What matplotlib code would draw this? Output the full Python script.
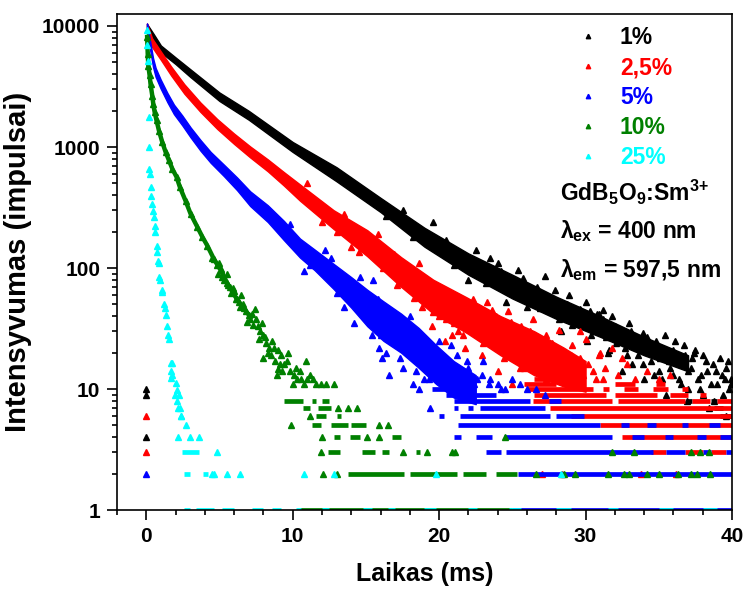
import matplotlib
matplotlib.use('Agg')
import matplotlib.pyplot as plt
from matplotlib.lines import Line2D
from matplotlib.ticker import MultipleLocator, LogLocator, NullFormatter

plt.rcParams['font.family'] = ['Liberation Sans', 'DejaVu Sans']
plt.rcParams['font.weight'] = 'bold'
plt.rcParams['mathtext.default'] = 'regular'

labels = ['1%', '2,5%', '5%', '10%', '25%']
colors = ['#000000', '#ff0000', '#0000ff', '#008000', '#00ffff']

# dense part of each decay: time (ms), lower and upper edge of the point cloud
black_t = [0.05, 0.5, 1, 2, 3, 5, 7, 10, 13, 16, 19, 22, 25, 28, 31, 34, 37]
black_lo = [9000, 7400, 6050, 4850, 3800, 2400, 1680, 910, 520, 290, 150, 88, 56, 38, 27, 19, 14]
black_hi = [10400, 8600, 6900, 5500, 4400, 2820, 1990, 1100, 680, 380, 215, 132, 88, 58, 40, 27, 19]

red_t = [0.05, 0.4, 1, 1.7, 2.6, 3.7, 4.85, 6, 7.1, 8.3, 9.4, 10.5, 12.8, 15.1, 17.4, 19.6, 21.9,
         24.2, 26.5, 28.5, 30.0]
red_lo = [9000, 6700, 5250, 3900, 2760, 1950, 1410, 1060, 820, 630, 480, 360, 210, 125, 70, 42, 29,
          19, 13, 10.5, 9.5]
red_hi = [10500, 7900, 6150, 4620, 3300, 2330, 1700, 1290, 1010, 790, 620, 490, 300, 205, 123, 80, 57,
          40, 30, 22, 17]

blue_t = [0.05, 0.23, 0.46, 0.64, 0.98, 1.44, 1.89, 2.46, 3.03, 3.71, 4.4, 5.3, 6.2, 7.1, 8.3, 9.4,
          10.5, 11.5, 12.8, 14.0, 15.1, 16.2, 17.4, 18.6, 19.8, 21.0, 22.5]
blue_lo = [9200, 6700, 4600, 3800, 3050, 2350, 1870, 1510, 1200, 930, 740, 575, 440, 325, 240, 170,
           122, 96, 67, 47, 33, 25, 20, 15, 11, 8.5, 7.5]
blue_hi = [10500, 7900, 5450, 4500, 3620, 2800, 2240, 1820, 1450, 1140, 910, 715, 560, 430, 330, 245,
           175, 142, 108, 84, 66, 53, 42, 32, 23, 17, 13]

# green early decay is a single chain of points
green_line_t = [0.06, 0.1, 0.14, 0.23, 0.29, 0.41, 0.48, 0.57, 0.70, 0.87, 1.09, 1.32, 1.55, 1.78,
                2.07, 2.3, 2.68, 3.03, 3.49, 3.83, 4.17, 4.63, 5.08, 5.53, 6.2, 7.0]
green_line_v = [8100, 5900, 4700, 3900, 3330, 2660, 2260, 1950, 1660, 1360, 1100, 910, 775, 660,
                565, 465, 360, 280, 218, 181, 153, 118, 96, 75, 55, 41]

# scattered single points (time, counts)
black_pt_t = [0.0, 0.0, 0.0, 22.5, 23.2, 24.0, 24.6, 25.4, 26.0, 26.7, 27.2, 27.8, 28.3, 28.9, 29.4,
              30.0, 30.4, 30.9, 31.2, 31.6, 32.0, 32.4, 32.8, 33.1, 33.5, 33.9, 34.2, 34.6, 35.0,
              35.3, 35.7, 36.1, 36.4, 36.8, 37.2, 37.5, 37.9, 38.2, 38.6, 38.9, 39.2, 39.5, 39.8,
              36.0, 34.0, 32.5, 39.9, 38.0, 37.0, 35.5, 30.8, 31.2, 37.4, 39.7, 36.9, 38.8, 38.4, 39.6,
              24.2, 24.8, 25.3, 25.7, 26.1, 26.5, 26.9, 27.4, 27.9, 28.2, 28.7, 29.1, 29.6, 29.9,
              30.3, 30.6, 31.0, 31.4, 31.8, 32.1, 32.3, 32.7, 33.0, 33.3, 33.6, 33.9, 34.3, 34.5,
              34.8, 35.1, 35.4, 35.8, 36.0, 36.3, 36.7, 37.0, 37.3, 37.7, 38.0, 38.3, 38.7, 39.0,
              39.3, 39.6, 39.9, 35.2, 36.5, 37.8, 39.4, 33.2, 34.7, 31.5, 30.1,
              17.5, 18.2, 20.5, 21.0, 23.5, 19.6, 22.0, 16.4]
black_pt_v = [10, 9, 4, 140, 75, 110, 52, 96, 48, 70, 86, 45, 30, 60, 40,
              52, 28, 42, 45, 21, 33, 26, 19, 30, 23, 16, 27, 20, 14,
              22, 17, 25, 12, 19, 15, 21, 13, 17, 11, 14, 18, 12, 10,
              13, 12, 14, 11, 9, 10, 9, 42, 38, 20, 17, 8, 8, 7, 6,
              95, 70, 60, 82, 55, 64, 47, 58, 66, 38, 50, 34, 46, 36,
              44, 31, 36, 27, 40, 24, 31, 22, 35, 26, 19, 29, 22, 17,
              25, 18, 28, 15, 21, 17, 23, 14, 18, 12, 19, 14, 16, 11,
              13, 15, 12, 12, 11, 10, 9, 16, 13, 20, 25,
              300, 180, 170, 105, 120, 240, 80, 270]

red_pt_t = [0.0, 0.0, 14.5, 17.1, 18.3, 19.6, 20.5, 21.0, 22.3, 23.0, 23.6, 24.4, 24.9, 25.3, 25.8,
            26.2, 26.8, 27.3, 27.7, 28.1, 28.6, 29.0, 29.4, 29.8, 30.2, 30.7, 31.2, 21.6, 23.9,
            27.0, 28.4, 33.8, 36.2, 24.0, 25.0,
            18.0, 18.8, 19.2, 20.0, 20.8, 21.3, 22.0, 22.6, 23.3, 23.8, 24.3, 24.7, 25.1, 25.6,
            26.0, 26.4, 26.9, 27.3, 27.8, 28.2, 28.8, 29.1, 29.6, 30.0, 30.5, 30.9, 31.3, 31.8,
            32.2, 32.8, 33.4, 34.2, 35.0, 35.8, 22.9, 25.5, 27.6, 29.3, 20.4, 21.8, 23.0, 19.5,
            11.0, 12.0, 13.5, 14.0, 15.8, 16.2, 18.6, 16.9, 13.0, 20.9, 31.0, 32.5, 29.6]
red_pt_v = [6, 3, 135, 72, 56, 43, 38, 35, 55, 24, 45, 18, 36, 25, 15,
            30, 20, 12, 24, 16, 13, 19, 14, 13, 16, 12, 12, 28, 40,
            2, 2, 2, 2, 14, 11,
            85, 48, 70, 40, 58, 30, 42, 33, 52, 26, 30, 44, 20, 33,
            24, 38, 17, 28, 21, 31, 16, 23, 18, 26, 14, 19, 15, 22,
            13, 16, 12, 14, 12, 13, 19, 15, 13, 12, 25, 22, 38, 33,
            500, 240, 280, 150, 190, 100, 110, 130, 200, 28, 20, 18, 30]

blue_pt_t = [0.0, 13.5, 14.5, 15.8, 15.9, 16.1, 17.5, 18.2, 18.6, 19.4, 19.8, 20.8, 21.9, 17.0, 16.6,
             19.0, 20.2, 22.6, 23.4, 24.2,
             13.8, 14.2, 14.9, 15.4, 16.0, 16.4, 16.9, 17.3, 17.8, 18.4, 18.9, 19.3, 19.7, 20.3,
             20.6, 21.2, 21.5, 22.0, 22.4, 22.9, 23.5, 24.0, 24.5, 25.0, 25.5, 26.0, 26.6, 27.2,
             23.0, 20.0, 18.0, 15.5,
             9.8, 11.2, 12.2, 13.0, 14.6, 16.0, 12.6, 10.8]
blue_pt_v = [2, 48, 70, 55, 22, 18, 15, 11, 10, 7, 22, 23, 17, 28, 13,
             12, 14, 12, 11, 10,
             80, 35, 62, 28, 46, 20, 36, 18, 32, 14, 26, 12, 20, 16,
             11, 19, 13, 15, 11, 13, 12, 11, 10, 12, 11, 10, 10, 9,
             17, 25, 40, 80,
             230, 105, 140, 62, 85, 28, 120, 95]

green_pt_t = [4.5, 4.8, 4.9, 5.1, 5.3, 5.6, 5.8, 5.9, 6.1, 6.4, 6.6, 6.8, 6.9, 7.2, 7.4, 7.5, 7.6,
              7.8, 7.7, 8.0, 8.2, 8.4, 8.6, 8.0, 8.5, 8.8, 9.0, 9.2, 9.4, 9.7, 9.3, 9.8, 10.1, 10.3,
              10.6, 10.9, 11.2, 11.6, 12.8, 10.0, 10.8, 11.9, 8.9,
              5.0, 5.2, 5.5, 5.7, 6.0, 6.3, 6.5, 6.7, 7.1, 7.3, 7.9, 8.1, 8.3, 8.7, 9.1, 9.6, 10.2,
              10.5, 11.0, 11.4, 12.3, 9.0,
              11.9, 17.5, 19.2, 20.9, 21.1, 15.1, 15.9, 12.0, 9.9, 15.9, 16.5, 14.4, 12.1, 13.0,
              13.1, 13.8, 11.2,
              26.6, 28.5, 29.3, 31.5, 32.6, 33.0, 34.2, 35.0, 36.3, 37.2, 37.6, 38.5,
              31.8, 33.3, 37.2, 37.8, 38.4, 24.5]
green_pt_v = [120, 105, 90, 98, 80, 72, 62, 68, 55, 48, 50, 44, 36, 42, 46, 38, 33,
              30, 26, 28, 24, 22, 25, 18, 19, 17, 21, 19, 16, 20, 14, 14, 13, 12,
              12, 17, 13, 11, 11, 11, 11, 11, 13,
              110, 85, 90, 70, 64, 52, 60, 47, 38, 34, 35, 27, 20, 22, 16, 17, 15,
              14, 12, 12, 11, 14.5,
              3, 3, 3, 3, 3, 4, 4, 4, 5, 5, 5, 7, 2, 2,
              7, 7, 6,
              2, 2, 2, 2, 2, 2, 2, 2, 2, 2, 2, 2,
              3, 3, 3, 3, 3, 4]

cyan_pt_t = [0.05, 0.08, 0.12, 0.18, 0.2, 0.22, 0.27, 0.32, 0.34, 0.41, 0.48, 0.55, 0.59, 0.63, 0.7,
             0.75, 0.82, 0.87, 0.93, 0.9, 1.09, 1.05, 1.25, 1.32, 1.2, 1.43, 1.55, 1.5, 1.78, 1.72,
             1.78, 1.66, 1.7, 2.0, 2.07, 1.95, 2.23, 2.1, 2.3, 2.2, 2.35, 2.4, 2.73, 2.16, 3.0,
             3.6, 4.8, 4.5, 4.6, 5.5, 6.4, 10.8, 12.8, 19.8, 28.3]
cyan_pt_v = [9300, 7000, 5150, 1770, 1000, 660, 600, 465, 395, 337, 297, 264, 223, 198, 152,
             135, 114, 110, 80, 85, 63, 66, 47, 41, 50, 33, 26, 28, 16.4, 16.4,
             13, 12.3, 14, 11.2, 9.8, 9, 8.9, 8, 7, 7, 6, 6, 5, 4, 4,
             4, 3, 2, 2, 2, 2, 2, 2, 2, 2]

# low count tails: rows of points at integer counts, (count, t_start, t_end)
black_rows = [(8, 36.9, 37.3), (8, 38.6, 39.0), (7, 38.8, 39.4), (6, 39.2, 40.0)]
red_rows = [(12, 26.5, 27.5), (11, 25.8, 28.0), (11, 32.0, 33.4), (11, 34.8, 35.4),
            (10, 26.0, 30.5), (10, 31.2, 31.6), (10, 32.6, 33.6), (10, 34.6, 35.6), (10, 36.6, 37.0),
            (9, 26.5, 31.4), (9, 32.0, 34.9), (9, 35.8, 37.0), (9, 37.8, 38.2),
            (8, 26.4, 31.8), (8, 32.2, 36.8), (8, 37.3, 38.5), (8, 39.0, 40.0),
            (7, 27.6, 40.0), (6, 29.0, 40.0), (5, 31.0, 40.0), (4, 32.5, 40.0),
            (3, 34.5, 35.5), (3, 36.8, 38.0), (3, 38.6, 39.6)]
blue_rows = [(10, 19.5, 21.5), (9, 20.5, 23.9), (8, 21.0, 26.2), (8, 27.5, 28.3),
             (7, 21.0, 21.3), (7, 22.0, 22.3), (7, 22.8, 27.2),
             (6, 20.0, 20.3), (6, 21.4, 27.6), (6, 28.0, 29.9),
             (5, 21.3, 31.0), (5, 32.4, 33.0), (5, 34.2, 34.8), (5, 36.6, 37.0), (5, 38.4, 39.2),
             (4, 21.0, 21.5), (4, 22.5, 23.6), (4, 24.4, 31.8), (4, 33.2, 34.0), (4, 35.4, 36.0),
             (4, 37.6, 38.2), (4, 39.2, 40.0),
             (3, 23.2, 24.2), (3, 24.6, 34.6), (3, 35.5, 36.8), (3, 38.0, 38.6), (3, 39.6, 40.0),
             (2, 25.4, 40.0), (1, 25.0, 40.0)]
green_rows = [(8, 9.4, 10.7), (8, 11.3, 11.6), (8, 12.0, 12.5),
              (7, 10.7, 11.2), (7, 11.7, 12.6), (6, 11.6, 12.3), (6, 13.0, 13.3),
              (5, 11.3, 11.9), (5, 12.6, 13.8), (5, 14.0, 15.0),
              (4, 12.8, 13.2), (4, 13.9, 14.6), (4, 16.8, 17.4),
              (3, 12.4, 13.2), (3, 14.7, 15.6), (3, 16.1, 16.6), (3, 18.4, 18.7),
              (2, 13.8, 17.6), (2, 18.0, 21.2), (2, 21.6, 23.2), (2, 23.9, 25.3),
              (1, 10.5, 25.0)]
cyan_rows = [(3, 2.46, 3.6), (2, 2.6, 3.0), (2, 3.9, 4.2),
             (1, 2.6, 3.0), (1, 3.4, 4.6), (1, 5.2, 6.0), (1, 7.2, 8.0), (1, 8.6, 9.2),
             (1, 10.2, 10.6), (1, 12.0, 12.5), (1, 14.8, 15.4), (1, 16.5, 17.0), (1, 19.0, 19.8),
             (1, 22.0, 22.6), (1, 24.8, 25.6), (1, 28.0, 29.0), (1, 31.5, 32.2), (1, 35.0, 36.0),
             (1, 38.0, 39.0)]

fig = plt.figure(figsize=(7.46, 5.89), dpi=100)
ax = fig.add_axes([0.1568, 0.1341, 0.8244, 0.8421])

ms = 4.2
row_lw = 3.4


def draw_rows(rows, c):
    for lev, t0, t1 in rows:
        ax.hlines(lev, t0, t1, colors=c, lw=row_lw, zorder=2)


# 1%
ax.fill_between(black_t, black_lo, black_hi, color=colors[0], lw=1.0, edgecolor=colors[0], zorder=2)
ax.plot(black_pt_t, black_pt_v, ls='none', marker='^', ms=ms, color=colors[0], zorder=2)
draw_rows(black_rows, colors[0])
# 2,5%
ax.fill_between(red_t, red_lo, red_hi, color=colors[1], lw=1.0, edgecolor=colors[1], zorder=2)
ax.plot(red_pt_t, red_pt_v, ls='none', marker='^', ms=ms, color=colors[1], zorder=2)
draw_rows(red_rows, colors[1])
# 5%
ax.fill_between(blue_t, blue_lo, blue_hi, color=colors[2], lw=1.0, edgecolor=colors[2], zorder=2)
ax.plot(blue_pt_t, blue_pt_v, ls='none', marker='^', ms=ms, color=colors[2], zorder=2)
draw_rows(blue_rows, colors[2])
# 10%
ax.plot(green_line_t, green_line_v, lw=3.2, marker='^', ms=ms, color=colors[3], zorder=3)
ax.plot(green_pt_t, green_pt_v, ls='none', marker='^', ms=ms, color=colors[3], zorder=3)
draw_rows(green_rows, colors[3])
# 25%
ax.plot(cyan_pt_t, cyan_pt_v, ls='none', marker='^', ms=ms, color=colors[4], zorder=3)
draw_rows(cyan_rows, colors[4])

ax.set_yscale('log')
ax.set_xlim(-2, 40)
ax.set_ylim(1, 12560)
ax.set_xticks([0, 10, 20, 30, 40])
ax.xaxis.set_minor_locator(MultipleLocator(2))
ax.set_yticks([1, 10, 100, 1000, 10000])
ax.set_yticklabels(['1', '10', '100', '1000', '10000'])
ax.yaxis.set_minor_locator(LogLocator(base=10, subs=range(2, 10)))
ax.yaxis.set_minor_formatter(NullFormatter())
ax.tick_params(which='major', direction='out', length=7, width=1.2, labelsize=15, pad=5)
ax.tick_params(which='minor', direction='out', length=3.6, width=1.2)
for s in ax.spines.values():
    s.set_linewidth(1.2)

ax.set_xlabel('Laikas (ms)', fontsize=18, fontweight='bold', labelpad=12)
ax.set_ylabel('Intensyvumas (impulsai)', fontsize=21, fontweight='bold', labelpad=7)

handles = [Line2D([], [], ls='none', marker='^', ms=3.2, color=c) for c in colors]
ax.legend(handles, labels, loc='upper left', bbox_to_anchor=(0.747, 0.975), frameon=False,
          borderpad=0, borderaxespad=0, handlelength=1.0, handletextpad=0.9, labelspacing=0.3,
          prop={'size': 16.5, 'weight': 'bold'}, labelcolor=colors)

ax.text(0.72, 0.641, 'GdB$_5$O$_9$:Sm$^{3\\!+}$', transform=ax.transAxes, fontsize=16.5,
        fontweight='bold', va='center', ha='left')
ax.text(0.72, 0.5625, 'λ$_{ex}$ = 400 nm', transform=ax.transAxes, fontsize=16.5,
        fontweight='bold', va='center', ha='left')
ax.text(0.72, 0.484, 'λ$_{em}$ = 597,5 nm', transform=ax.transAxes, fontsize=16.5,
        fontweight='bold', va='center', ha='left')

fig.savefig('out.png', dpi=100)
